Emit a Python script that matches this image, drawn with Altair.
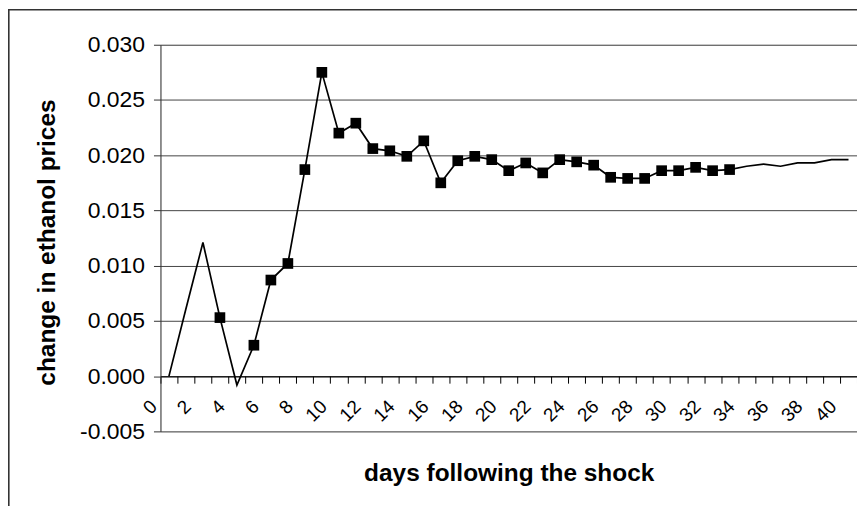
import altair as alt
import pandas as pd

# ---- data ----
days = list(range(0, 41))
values = [0.0000, 0.0061, 0.0121, 0.0053, -0.0008, 0.0028, 0.0087, 0.0102, 0.0187, 0.0275,
          0.0220, 0.0229, 0.0206, 0.0204, 0.0199, 0.0213, 0.0175, 0.0195, 0.0199, 0.0196,
          0.0186, 0.0193, 0.0184, 0.0196, 0.0194, 0.0191, 0.0180, 0.0179, 0.0179, 0.0186,
          0.0186, 0.0189, 0.0186, 0.0187, 0.0190, 0.0192, 0.0190, 0.0193, 0.0193, 0.0196,
          0.0196]
marked_days = [3, 5, 6, 7, 8, 9, 10, 11, 12, 13, 14, 15, 16, 17, 18, 19, 20, 21, 22, 23,
               24, 25, 26, 27, 28, 29, 30, 31, 32, 33]
y_ticks = [-0.005, 0.000, 0.005, 0.010, 0.015, 0.020, 0.025, 0.030]
x_label_days = [0, 2, 4, 6, 8, 10, 12, 14, 16, 18, 20, 22, 24, 26, 28, 30, 32, 34, 36, 38, 40]
x_tick_positions = [d - 0.5 for d in range(0, 42)]  # category boundaries
x_label_positions = [d - 0.5 for d in x_label_days]

df = pd.DataFrame({"day": days, "value": values})
df["marked"] = df["day"].isin(marked_days)

FONT = "Liberation Sans"
X_SCALE = alt.Scale(domain=[-0.5, 40.5], nice=False, zero=False)
Y_SCALE = alt.Scale(domain=[-0.005, 0.030], nice=False, zero=False)
AXIS_OFFSET = -55.4

# axis 1: ticks, domain line and title
x_enc_ticks = alt.X(
    "day:Q",
    scale=X_SCALE,
    axis=alt.Axis(
        orient="bottom",
        values=x_tick_positions,
        labels=False,
        tickSize=7,
        tickColor="black",
        domainColor="black",
        offset=AXIS_OFFSET,
        grid=False,
        title="days following the shock",
        titleFontSize=24.5,
        titleFontWeight="bold",
        titleColor="black",
        titleBaseline="alphabetic",
        titleY=104.5,
    ),
)

# axis 2: rotated labels only
x_enc_labels = alt.X(
    "day:Q",
    scale=X_SCALE,
    axis=alt.Axis(
        orient="bottom",
        values=x_label_positions,
        labelExpr="format(datum.value + 0.5, 'd')",
        labelAngle=315,
        labelAlign="right",
        labelBaseline="middle",
        labelFontSize=19,
        labelOffset=-7,
        labelPadding=27,
        labelOverlap=False,
        labelFlush=False,
        labelBound=False,
        labelColor="black",
        ticks=False,
        tickSize=7,
        domain=False,
        offset=AXIS_OFFSET,
        grid=False,
        title=None,
    ),
)

y_enc = alt.Y(
    "value:Q",
    scale=Y_SCALE,
    axis=alt.Axis(
        values=y_ticks,
        labelExpr="datum.value < 0 ? '-' + format(-datum.value, '.3f') : format(datum.value, '.3f')",
        labelFontSize=23,
        labelColor="black",
        labelPadding=9,
        tickSize=7,
        tickColor="#333333",
        domainColor="#333333",
        grid=True,
        gridColor="#444444",
        gridWidth=1,
        gridOpacity=1,
        title="change in ethanol prices",
        titleFontSize=24.5,
        titleFontWeight="bold",
        titleColor="black",
        titleAngle=270,
        titleAlign="center",
        titleBaseline="middle",
        titleX=-113,
        titleY=198,
    ),
)

border = alt.Chart(pd.DataFrame({"b": [0]})).mark_rect(
    fillOpacity=0, stroke="#333333", strokeWidth=1.6
).encode(
    x=alt.value(-152.2), x2=alt.value(1000), y=alt.value(-35.2), y2=alt.value(1000)
)

line = alt.Chart(df).mark_line(color="black", strokeWidth=1.7).encode(x=x_enc_ticks, y=y_enc)

points = alt.Chart(df).transform_filter("datum.marked").mark_point(
    shape="square", filled=True, size=115, color="black", opacity=1
).encode(x=x_enc_labels, y=alt.Y("value:Q", scale=Y_SCALE))

chart = alt.layer(border, line, points).resolve_axis(x="independent").properties(
    width=699,
    height=388,
    autosize=alt.AutoSizeParams(type="none"),
    padding={"left": 153, "top": 36, "right": 0, "bottom": 74},
).configure_view(stroke=None).configure(font=FONT)

chart.save("out.html", embed_options={"renderer": "svg", "actions": False})
